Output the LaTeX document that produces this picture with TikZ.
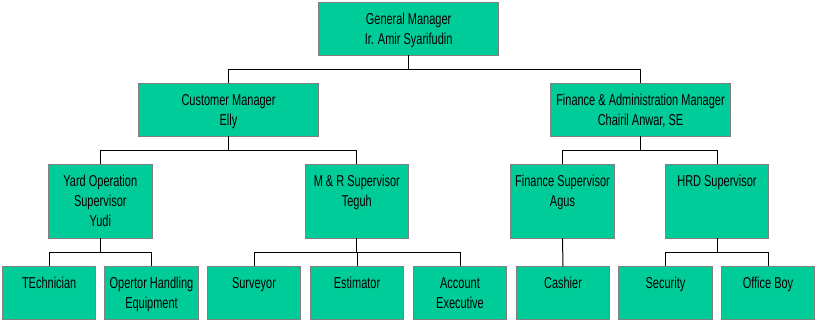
\documentclass[tikz,border=0pt]{standalone}
\usepackage{fontspec}
\setmainfont[FakeStretch=0.695]{Liberation Sans}
\usetikzlibrary{calc}
\definecolor{boxfill}{HTML}{00CC99}
\definecolor{boxline}{HTML}{808080}
\newcommand{\bxtext}[3]{\parbox[c][#2][t]{#1}{\fontsize{15.8pt}{20pt}\selectfont\centering\rule{0pt}{21.7pt}#3\par}}
\tikzset{
  orgbox/.style={draw=boxline, fill=boxfill, line width=1pt, inner sep=0pt, outer sep=0pt, text=black},
  link/.style={draw=black, line width=1pt}
}
\begin{document}
\begin{tikzpicture}[x=1pt,y=-1pt]
\useasboundingbox (0,0) rectangle (816,321);
% level 1
\node[orgbox] (gm) at (408.6,29) {\bxtext{180.2pt}{53pt}{General Manager\\Ir. Amir Syarifudin}};
% level 2
\node[orgbox] (cm) at (228.5,109.8) {\bxtext{180.4pt}{53pt}{Customer Manager\\Elly}};
\node[orgbox] (fa) at (640.5,109.8) {\bxtext{180.4pt}{53pt}{Finance \& Administration Manager\\Chairil Anwar, SE}};
% level 3
\node[orgbox] (yard) at (100.3,201.3) {\bxtext{104pt}{74pt}{Yard Operation\\Supervisor\\Yudi}};
\node[orgbox] (mr) at (356.8,201.3) {\bxtext{103pt}{74pt}{M \& R Supervisor\\Teguh}};
\node[orgbox] (fs) at (562.5,201.3) {\bxtext{104.4pt}{74pt}{Finance Supervisor\\Agus}};
\node[orgbox] (hrd) at (717,201.3) {\bxtext{103.4pt}{74pt}{HRD Supervisor}};
% level 4
\node[orgbox] (tech) at (49.2,292.8) {\bxtext{93.4pt}{53pt}{TEchnician}};
\node[orgbox] (ohe) at (151.5,292.8) {\bxtext{93.4pt}{53pt}{Opertor Handling\\Equipment}};
\node[orgbox] (surv) at (254,292.8) {\bxtext{93.4pt}{53pt}{Surveyor}};
\node[orgbox] (est) at (357,292.8) {\bxtext{93.4pt}{53pt}{Estimator}};
\node[orgbox] (ae) at (460,292.8) {\bxtext{93.4pt}{53pt}{Account\\Executive}};
\node[orgbox] (cash) at (563,292.8) {\bxtext{93.4pt}{53pt}{Cashier}};
\node[orgbox] (sec) at (665.5,292.8) {\bxtext{93.4pt}{53pt}{Security}};
\node[orgbox] (ob) at (768,292.8) {\bxtext{93.4pt}{53pt}{Office Boy}};
% bus coordinates
\coordinate (b1) at ($(gm.south)+(0,14)$);
\coordinate (b2) at ($(cm.south)+(0,14)$);
\coordinate (b3) at ($(fa.south)+(0,14)$);
\coordinate (b4) at ($(yard.south)+(0,14)$);
\coordinate (b5) at ($(mr.south)+(0,14)$);
\coordinate (b6) at ($(hrd.south)+(0,14)$);
% connectors
\draw[link] (gm.south) -- (b1) -| (cm.north);
\draw[link] (b1) -| (fa.north);
\draw[link] (cm.south) -- (b2) -| (yard.north);
\draw[link] (b2) -| (mr.north);
\draw[link] (fa.south) -- (b3) -| (fs.north);
\draw[link] (b3) -| (hrd.north);
\draw[link] (yard.south) -- (b4) -| (tech.north);
\draw[link] (b4) -| (ohe.north);
\draw[link] (mr.south) -- (b5) -| (surv.north);
\draw[link] (b5) -| (est.north);
\draw[link] (b5) -| (ae.north);
\draw[link] (fs.south) -- (cash.north);
\draw[link] (hrd.south) -- (b6) -| (sec.north);
\draw[link] (b6) -| (ob.north);
\end{tikzpicture}
\end{document}
